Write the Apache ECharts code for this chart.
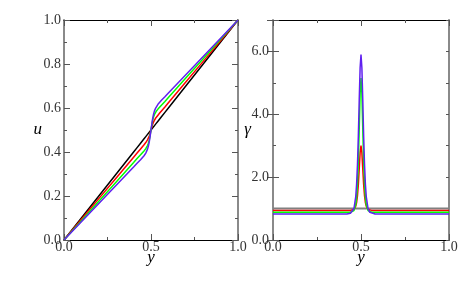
<!DOCTYPE html>
<html>
<head>
<meta charset="utf-8">
<script src="https://cdn.jsdelivr.net/npm/echarts@6/dist/echarts.min.js"></script>
<style>html,body{margin:0;padding:0;background:#fff;}#c{width:463px;height:283px;}</style>
</head>
<body>
<div id="c"></div>
<script>
// Sample positions y (shared by all curves)
var yPos = [0, 0.1, 0.2, 0.3, 0.4, 0.42, 0.44, 0.45, 0.46, 0.47, 0.475, 0.48, 0.485, 0.49, 0.495,
            0.5, 0.505, 0.51, 0.515, 0.52, 0.525, 0.53, 0.54, 0.55, 0.56, 0.58, 0.6, 0.7, 0.8, 0.9, 1.0];

// Left panel: velocity u(y)
var uBlack = [0, 0.1, 0.2, 0.3, 0.4, 0.42, 0.44, 0.45, 0.46, 0.47, 0.475, 0.48, 0.485, 0.49, 0.495,
              0.5, 0.505, 0.51, 0.515, 0.52, 0.525, 0.53, 0.54, 0.55, 0.56, 0.58, 0.6, 0.7, 0.8, 0.9, 1.0];
var uRed   = [0, 0.094, 0.188, 0.282, 0.376, 0.395, 0.414, 0.423, 0.433, 0.443, 0.448, 0.455, 0.463, 0.473, 0.485,
              0.5, 0.515, 0.527, 0.537, 0.545, 0.552, 0.557, 0.567, 0.577, 0.586, 0.605, 0.624, 0.718, 0.812, 0.906, 1.0];
var uGreen = [0, 0.088, 0.176, 0.264, 0.352, 0.370, 0.387, 0.396, 0.405, 0.415, 0.421, 0.429, 0.440, 0.455, 0.475,
              0.5, 0.525, 0.545, 0.560, 0.571, 0.579, 0.585, 0.595, 0.604, 0.613, 0.630, 0.648, 0.736, 0.824, 0.912, 1.0];
var uBlue  = [0, 0.083, 0.166, 0.249, 0.332, 0.349, 0.365, 0.374, 0.383, 0.395, 0.403, 0.413, 0.427, 0.446, 0.471,
              0.5, 0.529, 0.554, 0.573, 0.587, 0.597, 0.605, 0.617, 0.626, 0.635, 0.651, 0.668, 0.751, 0.834, 0.917, 1.0];

// Right panel: shear rate gamma(y)
var gBlack = [1, 1, 1, 1, 1, 1, 1, 1, 1, 1, 1, 1, 1, 1, 1,
              1, 1, 1, 1, 1, 1, 1, 1, 1, 1, 1, 1, 1, 1, 1, 1];
var gRed   = [0.94, 0.94, 0.94, 0.94, 0.94, 0.94, 0.942, 0.949, 0.974, 1.07, 1.19, 1.41, 1.77, 2.27, 2.78,
              3.00, 2.78, 2.27, 1.77, 1.41, 1.19, 1.07, 0.974, 0.949, 0.942, 0.94, 0.94, 0.94, 0.94, 0.94, 0.94];
var gGreen = [0.88, 0.88, 0.88, 0.88, 0.88, 0.88, 0.883, 0.894, 0.938, 1.12, 1.35, 1.77, 2.50, 3.56, 4.66,
              5.15, 4.66, 3.56, 2.50, 1.77, 1.35, 1.12, 0.938, 0.894, 0.883, 0.88, 0.88, 0.88, 0.88, 0.88, 0.88];
var gBlue  = [0.83, 0.83, 0.83, 0.83, 0.83, 0.83, 0.85, 0.88, 1.00, 1.37, 1.77, 2.40, 3.32, 4.46, 5.48,
              5.90, 5.48, 4.46, 3.32, 2.40, 1.77, 1.37, 1.00, 0.88, 0.85, 0.83, 0.83, 0.83, 0.83, 0.83, 0.83];

function pairs(ys) { return yPos.map(function (x, i) { return [x, ys[i]]; }); }

var FONT = 'Liberation Serif';
var LBL_SIZE = 14;
function fmt1(v) { return v.toFixed(1); }
function fmtEven(v) { return (Math.round(v) % 2 === 0) ? v.toFixed(1) : ''; }
var NAME = { fontFamily: FONT, fontSize: 17, fontStyle: 'italic', color: '#000' };

function xAx(grid, pos, show) {
  return {
    type: 'value', gridIndex: grid, position: pos, min: 0, max: 1, interval: 0.5,
    name: show ? 'y' : '', nameLocation: 'middle', nameGap: 9, nameMoveOverlap: false,
    nameTextStyle: NAME,
    axisLine: { show: true, onZero: false, lineStyle: { color: '#000', width: 1 } },
    axisTick: { show: true, inside: true, length: 6, lineStyle: { color: '#555' } },
    minorTick: { show: true, splitNumber: 2, length: 3, lineStyle: { color: '#555' } },
    axisLabel: { show: show, margin: 0, formatter: fmt1, fontFamily: FONT, fontSize: LBL_SIZE, color: '#333' },
    splitLine: { show: false }, minorSplitLine: { show: false }
  };
}

var option = {
  animation: false,
  backgroundColor: '#fff',
  grid: [
    { left: 64, top: 20, width: 174, height: 220 },
    { left: 273, top: 20, width: 176, height: 220 }
  ],
  xAxis: [
    xAx(0, 'bottom', true), xAx(0, 'top', false),
    xAx(1, 'bottom', true), xAx(1, 'top', false)
  ],
  yAxis: [
    { type: 'value', gridIndex: 0, position: 'left', min: 0, max: 1, interval: 0.2,
      name: 'u', nameLocation: 'middle', nameGap: 22, nameRotate: 0, nameMoveOverlap: false,
      nameTextStyle: NAME,
      axisLine: { show: true, onZero: false, lineStyle: { color: '#8a8a8a', width: 2 } },
      axisTick: { show: true, inside: true, length: 6, lineStyle: { color: '#555' } },
      minorTick: { show: true, splitNumber: 2, length: 3, lineStyle: { color: '#555' } },
      axisLabel: { margin: 3, formatter: fmt1, fontFamily: FONT, fontSize: LBL_SIZE, color: '#333' },
      splitLine: { show: false } },
    { type: 'value', gridIndex: 0, position: 'right', min: 0, max: 1, interval: 0.2,
      axisLine: { show: true, onZero: false, lineStyle: { color: '#8a8a8a', width: 2 } },
      axisTick: { show: true, inside: true, length: 6, lineStyle: { color: '#555' } },
      minorTick: { show: true, splitNumber: 2, length: 3, lineStyle: { color: '#555' } },
      axisLabel: { show: false }, splitLine: { show: false } },
    { type: 'value', gridIndex: 1, position: 'left', min: 0, max: 7, interval: 1,
      name: 'γ', nameLocation: 'middle', nameGap: 22, nameRotate: 0, nameMoveOverlap: false,
      nameTextStyle: NAME,
      axisLine: { show: true, onZero: false, lineStyle: { color: '#8a8a8a', width: 2 } },
      axisTick: { show: true, inside: true, length: 3, lineStyle: { color: '#555' } },
      axisLabel: { margin: 4, formatter: fmtEven, fontFamily: FONT, fontSize: LBL_SIZE, color: '#333' },
      splitLine: { show: false } },
    { type: 'value', gridIndex: 1, position: 'left', min: 0, max: 7, interval: 2,
      axisLine: { show: false },
      axisTick: { show: true, inside: true, length: 6, lineStyle: { color: '#555' } },
      axisLabel: { show: false }, splitLine: { show: false } },
    { type: 'value', gridIndex: 1, position: 'right', min: 0, max: 7, interval: 1,
      axisLine: { show: true, onZero: false, lineStyle: { color: '#8a8a8a', width: 2 } },
      axisTick: { show: true, inside: true, length: 3, lineStyle: { color: '#555' } },
      axisLabel: { show: false }, splitLine: { show: false } },
    { type: 'value', gridIndex: 1, position: 'right', min: 0, max: 7, interval: 2,
      axisLine: { show: false },
      axisTick: { show: true, inside: true, length: 6, lineStyle: { color: '#555' } },
      axisLabel: { show: false }, splitLine: { show: false } }
  ],
  series: [
    { type: 'line', xAxisIndex: 0, yAxisIndex: 0, data: pairs(uBlack), showSymbol: false, lineStyle: { color: '#000', width: 1.5 } },
    { type: 'line', xAxisIndex: 0, yAxisIndex: 0, data: pairs(uRed), showSymbol: false, lineStyle: { color: '#ff0000', width: 1.5 } },
    { type: 'line', xAxisIndex: 0, yAxisIndex: 0, data: pairs(uGreen), showSymbol: false, lineStyle: { color: '#00ff00', width: 1.5 } },
    { type: 'line', xAxisIndex: 0, yAxisIndex: 0, data: pairs(uBlue), showSymbol: false, lineStyle: { color: '#6020f0', width: 1.5 } },
    { type: 'line', xAxisIndex: 2, yAxisIndex: 2, data: pairs(gBlack), showSymbol: false, lineStyle: { color: '#808080', width: 2 } },
    { type: 'line', xAxisIndex: 2, yAxisIndex: 2, data: pairs(gRed), showSymbol: false, lineStyle: { color: '#ff0000', width: 1.5 } },
    { type: 'line', xAxisIndex: 2, yAxisIndex: 2, data: pairs(gGreen), showSymbol: false, lineStyle: { color: '#00ff00', width: 1.5 } },
    { type: 'line', xAxisIndex: 2, yAxisIndex: 2, data: pairs(gBlue), showSymbol: false, lineStyle: { color: '#6020f0', width: 1.5 } }
  ]
};

var chart = echarts.init(document.getElementById('c'), null, { renderer: 'canvas' });
chart.setOption(option);
</script>
</body>
</html>
